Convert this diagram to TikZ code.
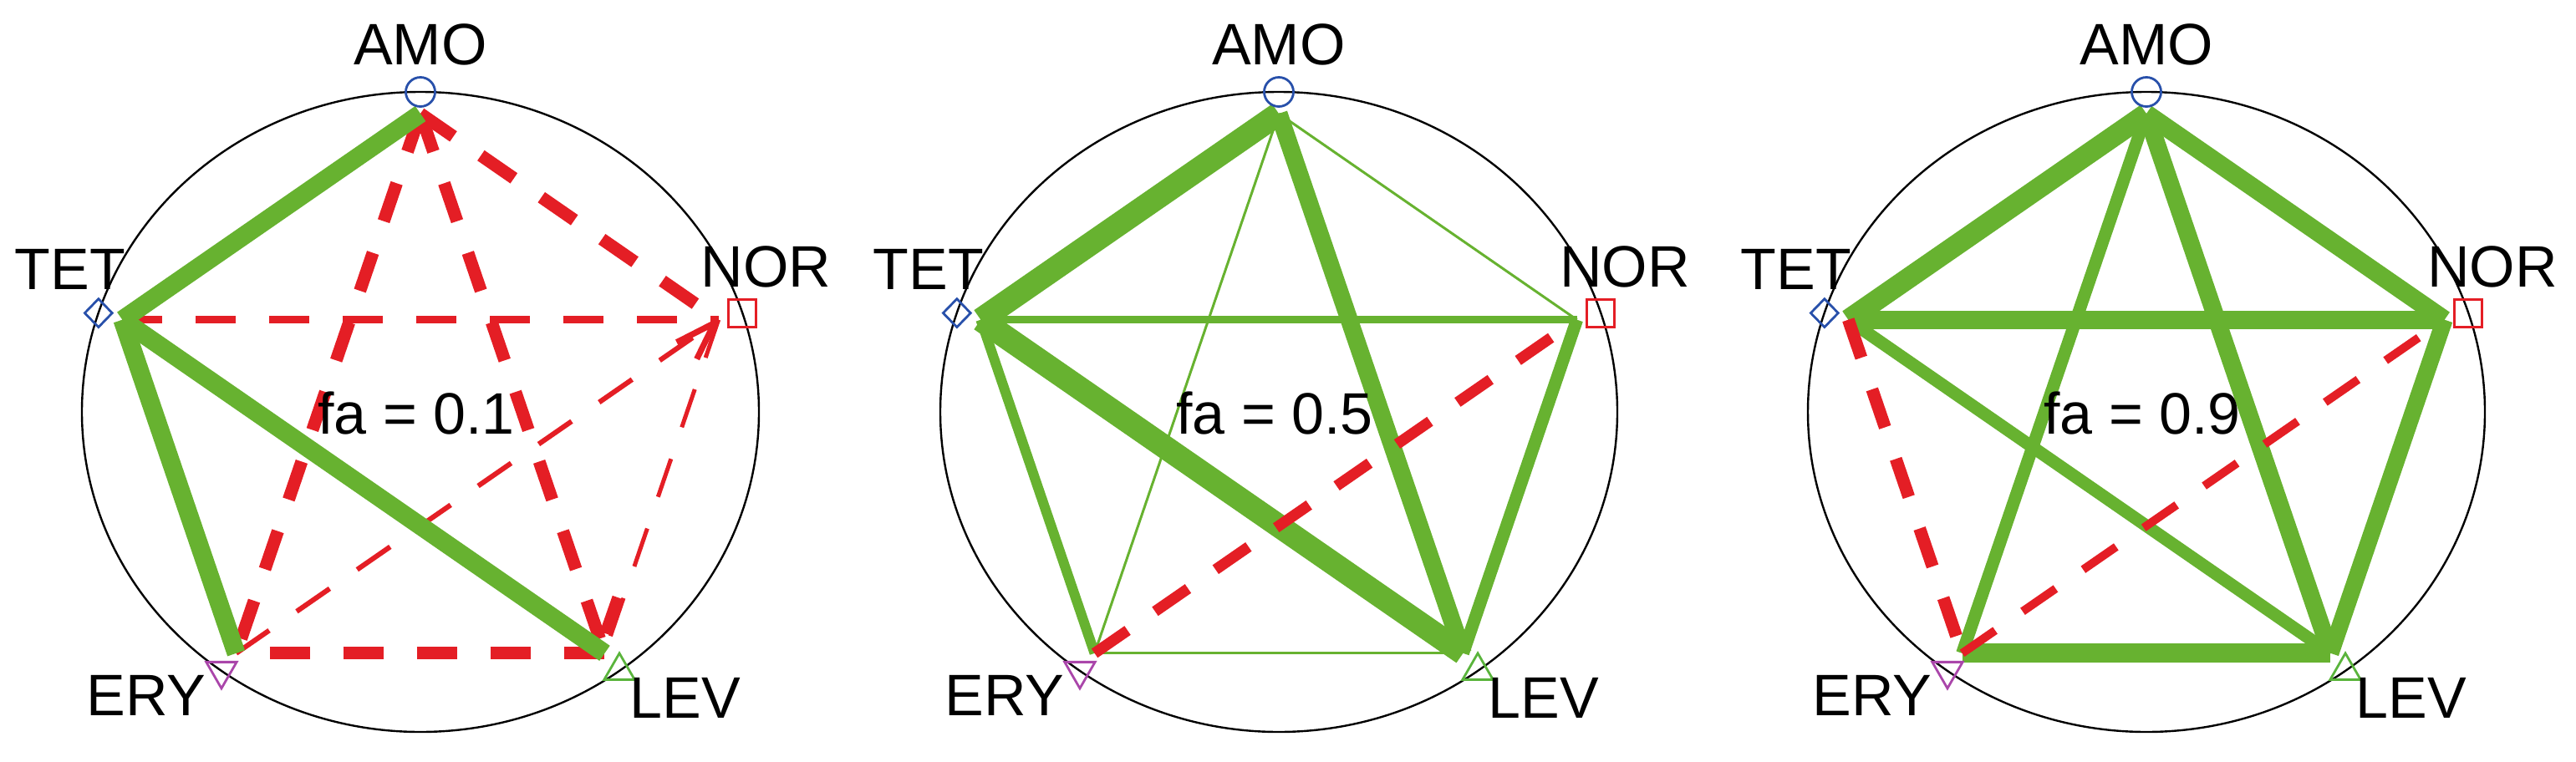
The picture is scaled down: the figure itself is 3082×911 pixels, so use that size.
\documentclass[tikz,border=0pt]{standalone}
\usepackage{fontspec}
\setmainfont{Liberation Sans}
\usetikzlibrary{shapes.geometric}
\definecolor{ggreen}{RGB}{103,178,48}
\definecolor{rred}{RGB}{228,30,37}
\definecolor{mblue}{RGB}{40,80,170}
\definecolor{mpurple}{RGB}{170,70,170}
\definecolor{mgreen}{RGB}{90,180,60}
\begin{document}
\begin{tikzpicture}[x=0.25pt,y=-0.25pt,
  circ/.style={draw=black,line width=0.6pt},
  lab/.style={inner sep=0pt,font=\fontsize{17.5pt}{21pt}\selectfont},
  gl/.style={draw=ggreen,line width=#1*0.25pt},
  rl/.style={draw=rred,line width=#1*0.25pt,dash pattern=on 12pt off 10pt},
  mk/.style={draw,fill=none,inner sep=0pt,line width=0.7pt},
  mAMO/.style={mk,draw=mblue,circle,minimum size=8.75pt},
  mNOR/.style={mk,draw=rred,rectangle,minimum size=8.25pt},
  mLEV/.style={mk,draw=mgreen,regular polygon,regular polygon sides=3,minimum size=10.5pt},
  mERY/.style={mk,draw=mpurple,regular polygon,regular polygon sides=3,shape border rotate=180,minimum size=10.5pt},
  mTET/.style={mk,draw=mblue,diamond,minimum width=8.5pt,minimum height=8.75pt}]
\useasboundingbox (0,0) rectangle (3082,911);
\foreach \p/\cx in {1/503,2/1530,3/2568}{
  \draw[circ] (\cx,493) ellipse [x radius=405, y radius=383];
  \foreach \n/\a in {AMO/90,NOR/18,LEV/-54,ERY/234,TET/162}{
    \coordinate (v\p\n) at ({\cx+375*cos(\a)},{493-357*sin(\a)});
  }
}
% ---- panel 1 ----
\draw[rl=15] (v1AMO) -- (v1NOR);
\draw[rl=15] (v1AMO) -- (v1ERY);
\draw[rl=15] (v1AMO) -- (v1LEV);
\draw[rl=15,dash phase=12pt] (v1ERY) -- (v1LEV);
\draw[rl=9] (v1TET) -- (v1NOR);
\draw[rl=6] (v1ERY) -- (v1NOR);
\draw[rl=5] (v1NOR) -- (v1LEV);
\draw[draw=rred,line width=1.8pt] ([shift={(-5,4)}]v1NOR) -- ++(-45,23);
\draw[draw=rred,line width=1.8pt] ([shift={(-5,4)}]v1NOR) -- ++(-21,43);
\draw[draw=rred,line width=3pt] ([shift={(0,-24)}]v1LEV) -- ++(15,-43);
\draw[gl=22] (v1AMO) -- (v1TET);
\draw[gl=22] (v1TET) -- (v1LEV);
\draw[gl=22] (v1TET) -- (v1ERY);
% ---- panel 2 ----
\draw[gl=28] (v2AMO) -- (v2TET);
\draw[gl=28] (v2TET) -- (v2LEV);
\draw[gl=21] (v2AMO) -- (v2LEV);
\draw[gl=15] (v2NOR) -- (v2LEV);
\draw[gl=12] (v2TET) -- (v2ERY);
\draw[gl=9] (v2TET) -- (v2NOR);
\draw[gl=3] (v2AMO) -- (v2ERY);
\draw[gl=3] (v2AMO) -- (v2NOR);
\draw[gl=3] (v2ERY) -- (v2LEV);
\draw[rl=13] (v2ERY) -- (v2NOR);
% ---- panel 3 ----
\draw[gl=25] (v3AMO) -- (v3TET);
\draw[gl=22] (v3AMO) -- (v3NOR);
\draw[gl=15] (v3AMO) -- (v3ERY);
\draw[gl=21] (v3AMO) -- (v3LEV);
\draw[gl=22] (v3TET) -- (v3NOR);
\draw[gl=15] (v3TET) -- (v3LEV);
\draw[gl=20] (v3NOR) -- (v3LEV);
\draw[gl=23] (v3ERY) -- (v3LEV);
\draw[rl=15] (v3TET) -- (v3ERY);
\draw[rl=10] (v3ERY) -- (v3NOR);
% ---- markers and labels ----
\foreach \p/\cx in {1/503,2/1530,3/2568}{
  \foreach \n/\a/\anc/\dx/\dy in {AMO/90/base/0/-33,NOR/18/base west/-50/-31,LEV/-54/base west/12/57,ERY/234/base east/-18/54,TET/162/base east/33/-28}{
    \node[m\n] (m\p\n) at ({\cx+405*cos(\a)},{493-383*sin(\a)}) {};
    \node[lab,anchor=\anc] (l\p\n) at ([shift={(\dx,\dy)}]m\p\n) {\n};
  }
}
\node[lab,anchor=base] (fa1) at (498,519) {fa = 0.1};
\node[lab,anchor=base] (fa2) at (1525,519) {fa = 0.5};
\node[lab,anchor=base] (fa3) at (2563,519) {fa = 0.9};
\end{tikzpicture}
\end{document}
